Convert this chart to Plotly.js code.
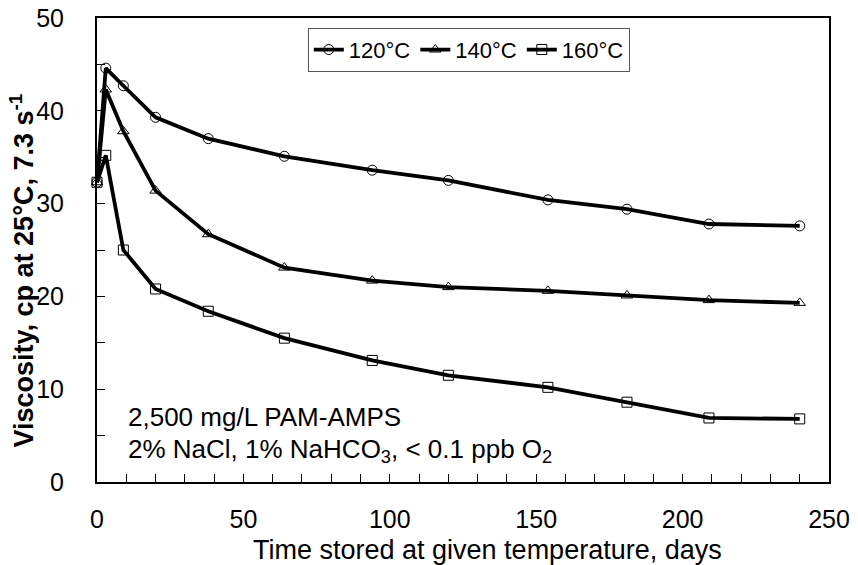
<!DOCTYPE html>
<html>
<head>
<meta charset="utf-8">
<script src="https://cdn.plot.ly/plotly-3.0.1.min.js"></script>
<style>html,body{margin:0;padding:0;background:#fff;}#chart{width:858px;height:565px;}</style>
</head>
<body>
<div id="chart"></div>
<script>
// Data
const days = [0, 3, 9, 20, 38, 64, 94, 120, 154, 181, 209, 240];
const visc120 = [32.3, 44.6, 42.7, 39.3, 37.0, 35.1, 33.6, 32.5, 30.4, 29.4, 27.8, 27.6];
const visc140 = [32.3, 42.3, 37.8, 31.4, 26.7, 23.1, 21.7, 21.0, 20.6, 20.1, 19.6, 19.3];
const visc160 = [32.3, 35.2, 25.0, 20.8, 18.4, 15.5, 13.1, 11.5, 10.2, 8.6, 6.9, 6.8];
const seriesNames = ["120°C", "140°C", "160°C"];
const xTickVals = [0, 50, 100, 150, 200, 250];
const yTickVals = [0, 10, 20, 30, 40, 50];
const xTitle = "Time stored at given temperature, days";
const yTitle = "<b>Viscosity, cp at 25°C, 7.3 s<sup>-1</sup></b>";
const note1 = "2,500 mg/L PAM-AMPS";
const note2 = "2% NaCl, 1% NaHCO<sub>3</sub>, < 0.1 ppb O<sub>2</sub>";

const FONT = "Arial, 'Liberation Sans', sans-serif";
const symbols = ["circle-open", "triangle-up-open", "square-open"];
const series = [visc120, visc140, visc160];

const traces = series.map((ys, i) => ({
  x: days,
  y: ys,
  name: seriesNames[i],
  type: "scatter",
  mode: "lines+markers",
  cliponaxis: false,
  line: {color: "#000", width: 3.8},
  marker: {symbol: symbols[i], size: 10, color: "#000", line: {color: "#000", width: 1}}
}));

const layout = {
  width: 858, height: 565,
  margin: {l: 97, r: 29, t: 18, b: 83},
  paper_bgcolor: "#fff", plot_bgcolor: "#fff",
  font: {family: FONT, color: "#000", size: 25},
  showlegend: true,
  legend: {
    orientation: "h", x: 0.288, y: 0.979, xanchor: "left", yanchor: "top",
    bordercolor: "#555", borderwidth: 1, bgcolor: "#fff",
    font: {family: FONT, size: 22, color: "#000"},
    itemwidth: 30, tracegroupgap: 0
  },
  xaxis: {
    range: [0, 250], tickvals: xTickVals, ticktext: xTickVals.map(String),
    ticks: "inside", ticklen: 8, tickwidth: 1, tickcolor: "#000",
    minor: {dtick: 10, ticks: "inside", ticklen: 8, tickwidth: 1, tickcolor: "#000"},
    showgrid: false, zeroline: false,
    showline: true, linecolor: "#000", linewidth: 2, mirror: true,
    tickfont: {size: 25}, ticklabelstandoff: 14
  },
  yaxis: {
    range: [0, 50], tickvals: yTickVals, ticktext: yTickVals.map(String),
    ticks: "inside", ticklen: 8, tickwidth: 1, tickcolor: "#000",
    minor: {dtick: 5, ticks: "inside", ticklen: 8, tickwidth: 1, tickcolor: "#000"},
    showgrid: false, zeroline: false,
    showline: true, linecolor: "#000", linewidth: 2, mirror: true,
    tickfont: {size: 25}, ticklabelstandoff: 26
  },
  annotations: [
    {xref: "paper", yref: "paper", x: 0.534, y: -0.147, xanchor: "center", yanchor: "middle",
     text: xTitle, showarrow: false, font: {size: 27}},
    {xref: "paper", yref: "paper", x: -0.103, y: 0.455, xanchor: "center", yanchor: "middle",
     text: yTitle, textangle: -90, showarrow: false, font: {size: 27}},
    {xref: "paper", yref: "paper", x: 0.04, y: 0.14, xanchor: "left", yanchor: "middle",
     text: note1, showarrow: false, font: {size: 26}},
    {xref: "paper", yref: "paper", x: 0.04, y: 0.068, xanchor: "left", yanchor: "middle",
     text: note2, showarrow: false, font: {size: 26}}
  ]
};

Plotly.newPlot("chart", traces, layout, {displayModeBar: false, staticPlot: true});
</script>
</body>
</html>
